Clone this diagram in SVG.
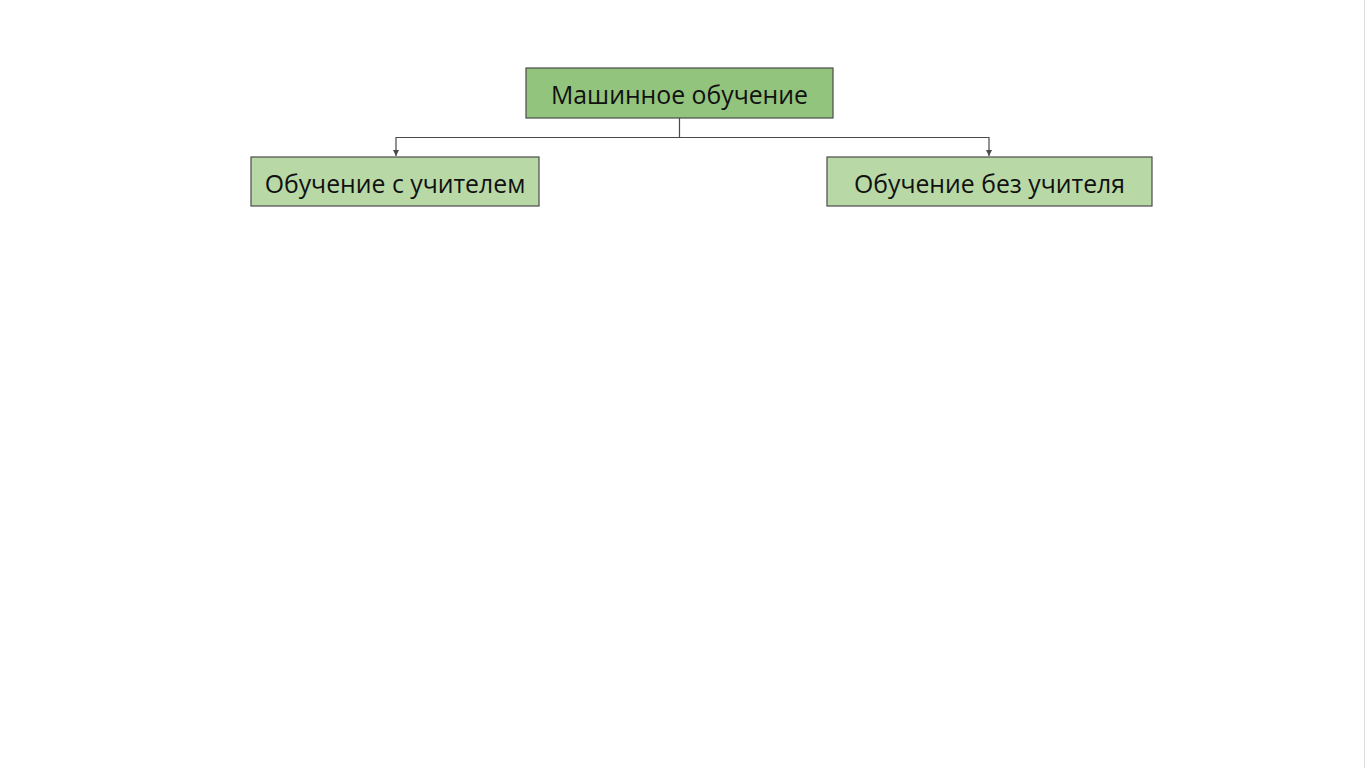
<svg xmlns="http://www.w3.org/2000/svg" width="1365" height="768" viewBox="0 0 1365 768">
<defs>
<style>
.box{stroke:#4a4a4a;stroke-width:1.2}
.top{fill:#93c47d}
.child{fill:#b8d9a6}
.lbl{font-family:"Open Sans","Noto Sans",sans-serif;font-size:24.8px;fill:#111;text-anchor:middle;dominant-baseline:central}
.conn{fill:none;stroke:#4a4a4a;stroke-width:1.2}
</style>
<marker id="arr" viewBox="0 0 10 10" refX="10" refY="5" markerWidth="6" markerHeight="6" orient="auto" markerUnits="userSpaceOnUse">
<path d="M0,0 L10,5 L0,10 z" fill="#4a4a4a"/>
</marker>
</defs>
<rect width="1365" height="768" fill="#ffffff"/>
<line x1="1364.5" y1="0" x2="1364.5" y2="768" stroke="#dcdcdc" stroke-width="1"/>
<g id="connectors">
<path class="conn" d="M679.5,118 V137.5 H396 V156" marker-end="url(#arr)"/>
<path class="conn" d="M679.5,137.5 H989 V156" marker-end="url(#arr)"/>
</g>
<g id="node-ml">
<rect class="box top" x="526" y="68" width="307" height="50"/>
<text class="lbl" x="679.5" y="94">Машинное обучение</text>
</g>
<g id="node-supervised">
<rect class="box child" x="251" y="157" width="288" height="49"/>
<text class="lbl" x="395" y="183">Обучение с учителем</text>
</g>
<g id="node-unsupervised">
<rect class="box child" x="827" y="157" width="325" height="49"/>
<text class="lbl" x="989.5" y="183">Обучение без учителя</text>
</g>
</svg>
